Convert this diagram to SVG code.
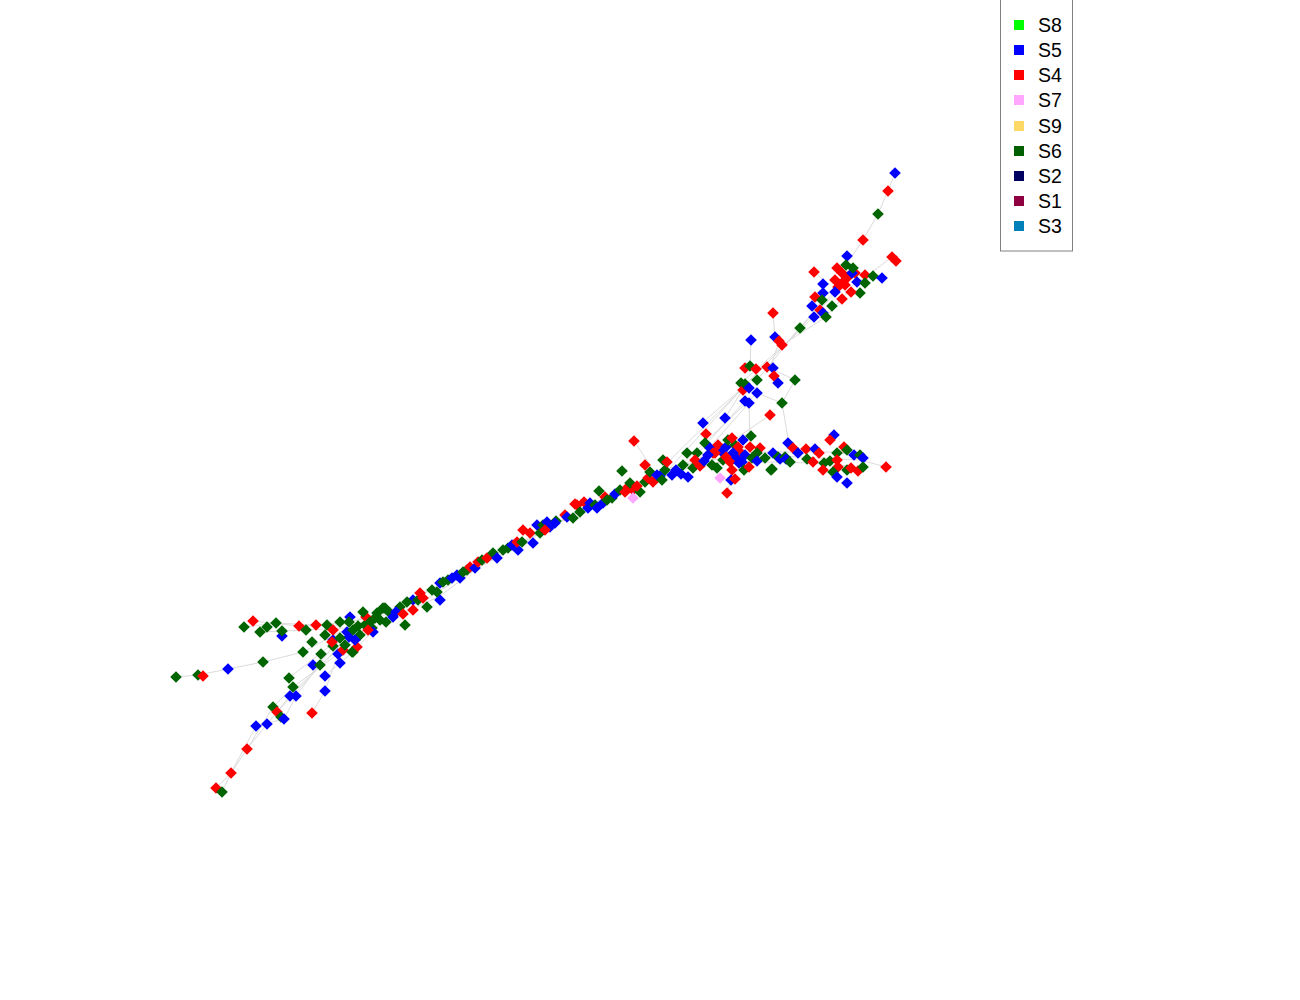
<svg xmlns="http://www.w3.org/2000/svg" width="1300" height="1000" viewBox="0 0 1300 1000">
<style>
.e{stroke:#d0d0d0;stroke-width:1;fill:none;opacity:0.75}
.g{fill:#006400}.b{fill:#0000ff}.r{fill:#ff0000}.p{fill:#ffa6ff}
.lt{font-family:"Liberation Sans",Arial,sans-serif;font-size:19.5px;fill:#000}
</style>
<defs><polygon id="d" points="0,-5.8 5.8,0 0,5.8 -5.8,0"/></defs>
<rect width="1300" height="1000" fill="#fff"/>
<g id="edges" class="e">
<polyline points="176,677 198,675 228,669 263,662 303,652 340,632 370,620"/>
<polyline points="244,627 276,623 316,625 350,622 380,615"/>
<polyline points="253,621 299,626 340,625 383,612"/>
<polyline points="260,632 306,630 345,628 390,613"/>
<polyline points="216,788 231,773 247,749 267,724 290,696 320,665 350,640 380,620"/>
<polyline points="222,792 231,773 256,726 284,719 296,696 333,646 370,622"/>
<polyline points="247,749 273,707 293,687 338,654 372,628"/>
<polyline points="312,713 325,691 338,654 360,630"/>
<polyline points="325,676 340,663 353,652 383,620"/>
<line x1="289" y1="678" x2="350" y2="630"/>
<line x1="277" y1="712" x2="345" y2="640"/>
<polyline points="370,620 420,595 460,577 500,556 540,533 580,512 620,493 660,476 700,460"/>
<polyline points="380,625 425,600 465,575 505,553 545,530 585,508 625,490 665,472 705,458"/>
<polyline points="385,615 430,590 470,568 510,548 550,526 590,505 630,486 670,468 710,455"/>
<polyline points="390,620 440,596 480,566 520,544 560,522 600,500 640,482 680,470 720,462"/>
<polyline points="700,460 740,458 780,456 820,458 860,460 886,467"/>
<polyline points="690,465 730,463 770,462 810,463 850,466"/>
<polyline points="705,452 745,452 790,452 830,452 860,455"/>
<line x1="634" y1="441" x2="650" y2="465"/>
<line x1="703" y1="422" x2="745" y2="386"/>
<line x1="660" y1="470" x2="745" y2="386"/>
<line x1="670" y1="468" x2="750" y2="380"/>
<line x1="680" y1="466" x2="757" y2="393"/>
<line x1="690" y1="462" x2="745" y2="401"/>
<line x1="700" y1="458" x2="749" y2="403"/>
<line x1="715" y1="453" x2="770" y2="415"/>
<line x1="725" y1="418" x2="745" y2="386"/>
<line x1="750" y1="440" x2="749" y2="403"/>
<line x1="782" y1="403" x2="790" y2="450"/>
<line x1="782" y1="403" x2="757" y2="393"/>
<line x1="751" y1="340" x2="750" y2="366"/>
<polyline points="775,337 779,342 770,368"/>
<line x1="773" y1="313" x2="775" y2="337"/>
<polyline points="745,385 775,355 800,328 822,305 845,280"/>
<polyline points="750,380 780,350 812,318 840,288"/>
<polyline points="741,383 790,340 826,317 855,283"/>
<line x1="757" y1="380" x2="823" y2="300"/>
<polyline points="895,173 888,191 878,214 863,240 846,265"/>
<line x1="892" y1="257" x2="855" y2="285"/>
<line x1="882" y1="278" x2="860" y2="280"/>
<line x1="814" y1="272" x2="830" y2="285"/>
<line x1="727" y1="493" x2="731" y2="480"/>
<line x1="795" y1="380" x2="770" y2="368"/>
<line x1="795" y1="380" x2="782" y2="403"/>
</g>
<g id="nodes">
<g id="n1"><use href="#d" x="176" y="677" class="g"/></g>
<g id="n2"><use href="#d" x="198" y="675" class="g"/></g>
<g id="n3"><use href="#d" x="203" y="676" class="r"/></g>
<g id="n4"><use href="#d" x="228" y="669" class="b"/></g>
<g id="n5"><use href="#d" x="263" y="662" class="g"/></g>
<g id="n6"><use href="#d" x="303" y="652" class="g"/></g>
<g id="n7"><use href="#d" x="313" y="665" class="b"/></g>
<g id="n8"><use href="#d" x="320" y="665" class="g"/></g>
<g id="n9"><use href="#d" x="325" y="676" class="b"/></g>
<g id="n10"><use href="#d" x="325" y="691" class="b"/></g>
<g id="n11"><use href="#d" x="312" y="713" class="r"/></g>
<g id="n12"><use href="#d" x="289" y="678" class="g"/></g>
<g id="n13"><use href="#d" x="293" y="687" class="g"/></g>
<g id="n14"><use href="#d" x="290" y="696" class="b"/></g>
<g id="n15"><use href="#d" x="296" y="696" class="b"/></g>
<g id="n16"><use href="#d" x="273" y="707" class="g"/></g>
<g id="n17"><use href="#d" x="277" y="712" class="r"/></g>
<g id="n18"><use href="#d" x="281" y="717" class="g"/></g>
<g id="n19"><use href="#d" x="284" y="719" class="b"/></g>
<g id="n20"><use href="#d" x="256" y="726" class="b"/></g>
<g id="n21"><use href="#d" x="267" y="724" class="b"/></g>
<g id="n22"><use href="#d" x="247" y="749" class="r"/></g>
<g id="n23"><use href="#d" x="231" y="773" class="r"/></g>
<g id="n24"><use href="#d" x="216" y="788" class="r"/></g>
<g id="n25"><use href="#d" x="222" y="792" class="g"/></g>
<g id="n26"><use href="#d" x="244" y="627" class="g"/></g>
<g id="n27"><use href="#d" x="253" y="621" class="r"/></g>
<g id="n28"><use href="#d" x="260" y="632" class="g"/></g>
<g id="n29"><use href="#d" x="267" y="627" class="g"/></g>
<g id="n30"><use href="#d" x="276" y="623" class="g"/></g>
<g id="n31"><use href="#d" x="282" y="636" class="b"/></g>
<g id="n32"><use href="#d" x="282" y="631" class="g"/></g>
<g id="n33"><use href="#d" x="299" y="626" class="r"/></g>
<g id="n34"><use href="#d" x="306" y="630" class="g"/></g>
<g id="n35"><use href="#d" x="316" y="625" class="r"/></g>
<g id="n36"><use href="#d" x="327" y="625" class="g"/></g>
<g id="n37"><use href="#d" x="340" y="622" class="g"/></g>
<g id="n38"><use href="#d" x="312" y="642" class="g"/></g>
<g id="n39"><use href="#d" x="321" y="654" class="g"/></g>
<g id="n40"><use href="#d" x="338" y="654" class="b"/></g>
<g id="n41"><use href="#d" x="340" y="663" class="b"/></g>
<g id="n42"><use href="#d" x="353" y="652" class="g"/></g>
<g id="n43"><use href="#d" x="357" y="647" class="r"/></g>
<g id="n44"><use href="#d" x="343" y="650" class="r"/></g>
<g id="n45"><use href="#d" x="349" y="637" class="b"/></g>
<g id="n46"><use href="#d" x="333" y="640" class="b"/></g>
<g id="n47"><use href="#d" x="333" y="646" class="g"/></g>
<g id="n48"><use href="#d" x="325" y="635" class="g"/></g>
<g id="n49"><use href="#d" x="333" y="630" class="r"/></g>
<g id="n50"><use href="#d" x="347" y="632" class="b"/></g>
<g id="n51"><use href="#d" x="340" y="638" class="g"/></g>
<g id="n52"><use href="#d" x="332" y="642" class="r"/></g>
<g id="n53"><use href="#d" x="353" y="630" class="g"/></g>
<g id="n54"><use href="#d" x="358" y="626" class="g"/></g>
<g id="n268"><use href="#d" x="360" y="635" class="g"/></g>
<g id="n269"><use href="#d" x="365" y="625" class="g"/></g>
<g id="n270"><use href="#d" x="375" y="618" class="g"/></g>
<g id="n271"><use href="#d" x="386" y="622" class="g"/></g>
<g id="n272"><use href="#d" x="355" y="640" class="b"/></g>
<g id="n273"><use href="#d" x="345" y="645" class="g"/></g>
<g id="n55"><use href="#d" x="350" y="617" class="b"/></g>
<g id="n56"><use href="#d" x="349" y="622" class="g"/></g>
<g id="n57"><use href="#d" x="366" y="617" class="r"/></g>
<g id="n58"><use href="#d" x="363" y="612" class="g"/></g>
<g id="n59"><use href="#d" x="377" y="613" class="g"/></g>
<g id="n60"><use href="#d" x="383" y="608" class="g"/></g>
<g id="n61"><use href="#d" x="390" y="613" class="g"/></g>
<g id="n62"><use href="#d" x="380" y="620" class="g"/></g>
<g id="n63"><use href="#d" x="370" y="622" class="g"/></g>
<g id="n64"><use href="#d" x="372" y="628" class="g"/></g>
<g id="n65"><use href="#d" x="373" y="632" class="b"/></g>
<g id="n66"><use href="#d" x="368" y="630" class="r"/></g>
<g id="n67"><use href="#d" x="352" y="652" class="g"/></g>
<g id="n68"><use href="#d" x="405" y="625" class="g"/></g>
<g id="n274"><use href="#d" x="400" y="607" class="g"/></g>
<g id="n275"><use href="#d" x="396" y="612" class="b"/></g>
<g id="n69"><use href="#d" x="403" y="614" class="r"/></g>
<g id="n70"><use href="#d" x="413" y="600" class="b"/></g>
<g id="n71"><use href="#d" x="413" y="610" class="r"/></g>
<g id="n72"><use href="#d" x="407" y="602" class="g"/></g>
<g id="n73"><use href="#d" x="385" y="608" class="g"/></g>
<g id="n74"><use href="#d" x="393" y="617" class="b"/></g>
<g id="n276"><use href="#d" x="418" y="600" class="g"/></g>
<g id="n75"><use href="#d" x="420" y="593" class="r"/></g>
<g id="n76"><use href="#d" x="423" y="598" class="r"/></g>
<g id="n77"><use href="#d" x="440" y="600" class="b"/></g>
<g id="n78"><use href="#d" x="427" y="607" class="g"/></g>
<g id="n277"><use href="#d" x="432" y="590" class="g"/></g>
<g id="n79"><use href="#d" x="437" y="592" class="g"/></g>
<g id="n80"><use href="#d" x="440" y="583" class="b"/></g>
<g id="n81"><use href="#d" x="443" y="582" class="g"/></g>
<g id="n82"><use href="#d" x="448" y="580" class="g"/></g>
<g id="n278"><use href="#d" x="452" y="578" class="b"/></g>
<g id="n83"><use href="#d" x="457" y="575" class="b"/></g>
<g id="n84"><use href="#d" x="460" y="578" class="b"/></g>
<g id="n85"><use href="#d" x="463" y="572" class="g"/></g>
<g id="n279"><use href="#d" x="467" y="570" class="g"/></g>
<g id="n86"><use href="#d" x="470" y="567" class="r"/></g>
<g id="n87"><use href="#d" x="475" y="568" class="b"/></g>
<g id="n280"><use href="#d" x="478" y="562" class="r"/></g>
<g id="n88"><use href="#d" x="482" y="560" class="g"/></g>
<g id="n89"><use href="#d" x="487" y="558" class="r"/></g>
<g id="n90"><use href="#d" x="493" y="553" class="g"/></g>
<g id="n91"><use href="#d" x="497" y="558" class="b"/></g>
<g id="n281"><use href="#d" x="503" y="550" class="g"/></g>
<g id="n92"><use href="#d" x="508" y="548" class="g"/></g>
<g id="n282"><use href="#d" x="512" y="545" class="b"/></g>
<g id="n93"><use href="#d" x="518" y="550" class="b"/></g>
<g id="n94"><use href="#d" x="517" y="542" class="r"/></g>
<g id="n95"><use href="#d" x="522" y="542" class="g"/></g>
<g id="n96"><use href="#d" x="533" y="543" class="b"/></g>
<g id="n97"><use href="#d" x="523" y="530" class="r"/></g>
<g id="n98"><use href="#d" x="530" y="533" class="r"/></g>
<g id="n99"><use href="#d" x="537" y="525" class="b"/></g>
<g id="n100"><use href="#d" x="540" y="533" class="g"/></g>
<g id="n101"><use href="#d" x="543" y="525" class="g"/></g>
<g id="n283"><use href="#d" x="547" y="522" class="b"/></g>
<g id="n102"><use href="#d" x="550" y="527" class="b"/></g>
<g id="n103"><use href="#d" x="545" y="530" class="r"/></g>
<g id="n284"><use href="#d" x="556" y="521" class="g"/></g>
<g id="n104"><use href="#d" x="555" y="523" class="b"/></g>
<g id="n285"><use href="#d" x="565" y="515" class="r"/></g>
<g id="n105"><use href="#d" x="567" y="517" class="b"/></g>
<g id="n106"><use href="#d" x="573" y="518" class="g"/></g>
<g id="n107"><use href="#d" x="577" y="505" class="r"/></g>
<g id="n108"><use href="#d" x="580" y="512" class="g"/></g>
<g id="n109"><use href="#d" x="584" y="502" class="r"/></g>
<g id="n110"><use href="#d" x="575" y="504" class="r"/></g>
<g id="n111"><use href="#d" x="588" y="508" class="b"/></g>
<g id="n286"><use href="#d" x="590" y="503" class="b"/></g>
<g id="n112"><use href="#d" x="595" y="505" class="g"/></g>
<g id="n113"><use href="#d" x="599" y="491" class="g"/></g>
<g id="n114"><use href="#d" x="597" y="508" class="b"/></g>
<g id="n115"><use href="#d" x="603" y="503" class="b"/></g>
<g id="n287"><use href="#d" x="605" y="497" class="r"/></g>
<g id="n116"><use href="#d" x="607" y="500" class="g"/></g>
<g id="n117"><use href="#d" x="612" y="498" class="g"/></g>
<g id="n288"><use href="#d" x="615" y="494" class="b"/></g>
<g id="n289"><use href="#d" x="620" y="490" class="g"/></g>
<g id="n118"><use href="#d" x="625" y="492" class="r"/></g>
<g id="n290"><use href="#d" x="628" y="487" class="r"/></g>
<g id="n119"><use href="#d" x="633" y="490" class="r"/></g>
<g id="n120"><use href="#d" x="640" y="492" class="g"/></g>
<g id="n121"><use href="#d" x="633" y="498" class="p"/></g>
<g id="n122"><use href="#d" x="622" y="471" class="g"/></g>
<g id="n123"><use href="#d" x="630" y="483" class="g"/></g>
<g id="n124"><use href="#d" x="637" y="486" class="r"/></g>
<g id="n125"><use href="#d" x="645" y="482" class="g"/></g>
<g id="n291"><use href="#d" x="648" y="478" class="r"/></g>
<g id="n292"><use href="#d" x="650" y="472" class="g"/></g>
<g id="n126"><use href="#d" x="653" y="482" class="r"/></g>
<g id="n127"><use href="#d" x="657" y="475" class="b"/></g>
<g id="n128"><use href="#d" x="660" y="476" class="b"/></g>
<g id="n293"><use href="#d" x="665" y="470" class="g"/></g>
<g id="n129"><use href="#d" x="672" y="475" class="b"/></g>
<g id="n294"><use href="#d" x="676" y="470" class="b"/></g>
<g id="n130"><use href="#d" x="681" y="474" class="b"/></g>
<g id="n131"><use href="#d" x="688" y="477" class="b"/></g>
<g id="n295"><use href="#d" x="693" y="468" class="g"/></g>
<g id="n296"><use href="#d" x="700" y="466" class="r"/></g>
<g id="n132"><use href="#d" x="683" y="465" class="g"/></g>
<g id="n133"><use href="#d" x="687" y="453" class="g"/></g>
<g id="n134"><use href="#d" x="645" y="465" class="r"/></g>
<g id="n135"><use href="#d" x="663" y="460" class="g"/></g>
<g id="n136"><use href="#d" x="667" y="462" class="r"/></g>
<g id="n137"><use href="#d" x="634" y="441" class="r"/></g>
<g id="n138"><use href="#d" x="662" y="480" class="g"/></g>
<g id="n139"><use href="#d" x="703" y="423" class="b"/></g>
<g id="n140"><use href="#d" x="725" y="418" class="b"/></g>
<g id="n141"><use href="#d" x="706" y="434" class="r"/></g>
<g id="n142"><use href="#d" x="705" y="443" class="g"/></g>
<g id="n297"><use href="#d" x="710" y="448" class="b"/></g>
<g id="n298"><use href="#d" x="718" y="445" class="r"/></g>
<g id="n299"><use href="#d" x="726" y="447" class="b"/></g>
<g id="n300"><use href="#d" x="735" y="445" class="g"/></g>
<g id="n143"><use href="#d" x="728" y="440" class="g"/></g>
<g id="n144"><use href="#d" x="732" y="438" class="r"/></g>
<g id="n145"><use href="#d" x="743" y="440" class="b"/></g>
<g id="n146"><use href="#d" x="738" y="447" class="r"/></g>
<g id="n147"><use href="#d" x="750" y="447" class="r"/></g>
<g id="n148"><use href="#d" x="751" y="436" class="g"/></g>
<g id="n301"><use href="#d" x="740" y="452" class="r"/></g>
<g id="n302"><use href="#d" x="745" y="455" class="b"/></g>
<g id="n303"><use href="#d" x="752" y="458" class="g"/></g>
<g id="n304"><use href="#d" x="760" y="448" class="r"/></g>
<g id="n149"><use href="#d" x="722" y="452" class="b"/></g>
<g id="n150"><use href="#d" x="733" y="453" class="b"/></g>
<g id="n151"><use href="#d" x="715" y="453" class="r"/></g>
<g id="n152"><use href="#d" x="697" y="453" class="g"/></g>
<g id="n153"><use href="#d" x="713" y="453" class="r"/></g>
<g id="n305"><use href="#d" x="708" y="455" class="b"/></g>
<g id="n154"><use href="#d" x="695" y="460" class="r"/></g>
<g id="n155"><use href="#d" x="704" y="461" class="b"/></g>
<g id="n306"><use href="#d" x="712" y="465" class="g"/></g>
<g id="n156"><use href="#d" x="723" y="460" class="g"/></g>
<g id="n307"><use href="#d" x="726" y="457" class="r"/></g>
<g id="n308"><use href="#d" x="736" y="458" class="b"/></g>
<g id="n157"><use href="#d" x="730" y="462" class="r"/></g>
<g id="n158"><use href="#d" x="742" y="462" class="b"/></g>
<g id="n159"><use href="#d" x="739" y="463" class="b"/></g>
<g id="n160"><use href="#d" x="757" y="453" class="g"/></g>
<g id="n161"><use href="#d" x="757" y="461" class="b"/></g>
<g id="n309"><use href="#d" x="765" y="458" class="g"/></g>
<g id="n310"><use href="#d" x="744" y="470" class="g"/></g>
<g id="n162"><use href="#d" x="717" y="468" class="g"/></g>
<g id="n163"><use href="#d" x="732" y="470" class="r"/></g>
<g id="n164"><use href="#d" x="749" y="467" class="r"/></g>
<g id="n165"><use href="#d" x="771" y="470" class="g"/></g>
<g id="n166"><use href="#d" x="720" y="478" class="p"/></g>
<g id="n167"><use href="#d" x="731" y="480" class="b"/></g>
<g id="n168"><use href="#d" x="735" y="479" class="r"/></g>
<g id="n169"><use href="#d" x="727" y="493" class="r"/></g>
<g id="n170"><use href="#d" x="834" y="435" class="b"/></g>
<g id="n171"><use href="#d" x="830" y="440" class="r"/></g>
<g id="n172"><use href="#d" x="788" y="443" class="b"/></g>
<g id="n173"><use href="#d" x="793" y="448" class="r"/></g>
<g id="n174"><use href="#d" x="773" y="453" class="b"/></g>
<g id="n175"><use href="#d" x="778" y="457" class="g"/></g>
<g id="n176"><use href="#d" x="780" y="459" class="b"/></g>
<g id="n177"><use href="#d" x="785" y="457" class="g"/></g>
<g id="n178"><use href="#d" x="798" y="453" class="b"/></g>
<g id="n179"><use href="#d" x="806" y="449" class="r"/></g>
<g id="n180"><use href="#d" x="815" y="449" class="b"/></g>
<g id="n181"><use href="#d" x="819" y="453" class="r"/></g>
<g id="n182"><use href="#d" x="837" y="453" class="g"/></g>
<g id="n183"><use href="#d" x="844" y="447" class="r"/></g>
<g id="n184"><use href="#d" x="847" y="450" class="g"/></g>
<g id="n185"><use href="#d" x="854" y="455" class="b"/></g>
<g id="n186"><use href="#d" x="860" y="455" class="g"/></g>
<g id="n187"><use href="#d" x="863" y="458" class="b"/></g>
<g id="n188"><use href="#d" x="807" y="459" class="g"/></g>
<g id="n189"><use href="#d" x="786" y="459" class="b"/></g>
<g id="n190"><use href="#d" x="790" y="462" class="g"/></g>
<g id="n191"><use href="#d" x="813" y="462" class="r"/></g>
<g id="n192"><use href="#d" x="830" y="461" class="g"/></g>
<g id="n193"><use href="#d" x="837" y="460" class="r"/></g>
<g id="n194"><use href="#d" x="838" y="467" class="r"/></g>
<g id="n195"><use href="#d" x="824" y="463" class="g"/></g>
<g id="n196"><use href="#d" x="823" y="470" class="r"/></g>
<g id="n197"><use href="#d" x="833" y="472" class="g"/></g>
<g id="n198"><use href="#d" x="847" y="470" class="g"/></g>
<g id="n199"><use href="#d" x="851" y="468" class="r"/></g>
<g id="n200"><use href="#d" x="858" y="471" class="r"/></g>
<g id="n201"><use href="#d" x="863" y="467" class="g"/></g>
<g id="n202"><use href="#d" x="837" y="477" class="b"/></g>
<g id="n203"><use href="#d" x="847" y="483" class="b"/></g>
<g id="n204"><use href="#d" x="886" y="467" class="r"/></g>
<g id="n205"><use href="#d" x="772" y="469" class="g"/></g>
<g id="n206"><use href="#d" x="751" y="340" class="b"/></g>
<g id="n207"><use href="#d" x="775" y="337" class="b"/></g>
<g id="n208"><use href="#d" x="779" y="341" class="r"/></g>
<g id="n209"><use href="#d" x="782" y="345" class="r"/></g>
<g id="n210"><use href="#d" x="800" y="328" class="g"/></g>
<g id="n211"><use href="#d" x="745" y="368" class="r"/></g>
<g id="n212"><use href="#d" x="750" y="366" class="g"/></g>
<g id="n213"><use href="#d" x="756" y="369" class="r"/></g>
<g id="n214"><use href="#d" x="767" y="367" class="r"/></g>
<g id="n215"><use href="#d" x="773" y="368" class="b"/></g>
<g id="n216"><use href="#d" x="774" y="376" class="r"/></g>
<g id="n217"><use href="#d" x="757" y="380" class="g"/></g>
<g id="n218"><use href="#d" x="795" y="380" class="g"/></g>
<g id="n219"><use href="#d" x="778" y="383" class="b"/></g>
<g id="n220"><use href="#d" x="741" y="383" class="g"/></g>
<g id="n221"><use href="#d" x="743" y="390" class="r"/></g>
<g id="n222"><use href="#d" x="745" y="384" class="g"/></g>
<g id="n223"><use href="#d" x="749" y="388" class="b"/></g>
<g id="n224"><use href="#d" x="757" y="393" class="b"/></g>
<g id="n225"><use href="#d" x="745" y="401" class="b"/></g>
<g id="n226"><use href="#d" x="749" y="403" class="b"/></g>
<g id="n227"><use href="#d" x="782" y="403" class="g"/></g>
<g id="n228"><use href="#d" x="770" y="415" class="r"/></g>
<g id="n229"><use href="#d" x="773" y="313" class="r"/></g>
<g id="n230"><use href="#d" x="895" y="173" class="b"/></g>
<g id="n231"><use href="#d" x="888" y="191" class="r"/></g>
<g id="n232"><use href="#d" x="878" y="214" class="g"/></g>
<g id="n233"><use href="#d" x="863" y="240" class="r"/></g>
<g id="n234"><use href="#d" x="892" y="257" class="r"/></g>
<g id="n235"><use href="#d" x="896" y="261" class="r"/></g>
<g id="n236"><use href="#d" x="847" y="256" class="b"/></g>
<g id="n237"><use href="#d" x="846" y="265" class="g"/></g>
<g id="n238"><use href="#d" x="814" y="272" class="r"/></g>
<g id="n239"><use href="#d" x="837" y="268" class="r"/></g>
<g id="n240"><use href="#d" x="842" y="273" class="r"/></g>
<g id="n241"><use href="#d" x="848" y="277" class="r"/></g>
<g id="n242"><use href="#d" x="855" y="273" class="r"/></g>
<g id="n243"><use href="#d" x="843" y="282" class="r"/></g>
<g id="n244"><use href="#d" x="838" y="287" class="r"/></g>
<g id="n245"><use href="#d" x="852" y="273" class="b"/></g>
<g id="n246"><use href="#d" x="853" y="268" class="g"/></g>
<g id="n247"><use href="#d" x="865" y="275" class="r"/></g>
<g id="n248"><use href="#d" x="873" y="276" class="g"/></g>
<g id="n249"><use href="#d" x="882" y="278" class="b"/></g>
<g id="n250"><use href="#d" x="857" y="282" class="b"/></g>
<g id="n251"><use href="#d" x="865" y="283" class="g"/></g>
<g id="n252"><use href="#d" x="860" y="293" class="g"/></g>
<g id="n253"><use href="#d" x="851" y="292" class="r"/></g>
<g id="n254"><use href="#d" x="835" y="292" class="b"/></g>
<g id="n255"><use href="#d" x="823" y="284" class="b"/></g>
<g id="n256"><use href="#d" x="823" y="293" class="b"/></g>
<g id="n257"><use href="#d" x="815" y="297" class="r"/></g>
<g id="n258"><use href="#d" x="822" y="300" class="g"/></g>
<g id="n259"><use href="#d" x="812" y="306" class="b"/></g>
<g id="n260"><use href="#d" x="832" y="306" class="g"/></g>
<g id="n261"><use href="#d" x="842" y="299" class="r"/></g>
<g id="n262"><use href="#d" x="820" y="310" class="r"/></g>
<g id="n263"><use href="#d" x="823" y="313" class="b"/></g>
<g id="n264"><use href="#d" x="826" y="317" class="g"/></g>
<g id="n265"><use href="#d" x="814" y="317" class="b"/></g>
<g id="n266"><use href="#d" x="845" y="285" class="r"/></g>
<g id="n267"><use href="#d" x="835" y="280" class="r"/></g>
</g>
<g id="legend">
<rect x="1000.5" y="-1" width="72" height="252" fill="#fff" stroke="#808080" stroke-width="1"/>
<rect x="1014" y="20" width="10" height="10" fill="#00ff00"/><text class="lt" x="1038" y="32">S8</text>
<rect x="1014" y="45" width="10" height="10" fill="#0000ff"/><text class="lt" x="1038" y="57">S5</text>
<rect x="1014" y="70" width="10" height="10" fill="#ff0000"/><text class="lt" x="1038" y="82">S4</text>
<rect x="1014" y="95" width="10" height="10" fill="#ffa6ff"/><text class="lt" x="1038" y="107">S7</text>
<rect x="1014" y="121" width="10" height="10" fill="#ffd966"/><text class="lt" x="1038" y="133">S9</text>
<rect x="1014" y="146" width="10" height="10" fill="#006000"/><text class="lt" x="1038" y="158">S6</text>
<rect x="1014" y="171" width="10" height="10" fill="#000060"/><text class="lt" x="1038" y="183">S2</text>
<rect x="1014" y="196" width="10" height="10" fill="#900040"/><text class="lt" x="1038" y="208">S1</text>
<rect x="1014" y="221" width="10" height="10" fill="#0080b8"/><text class="lt" x="1038" y="233">S3</text>
</g>
</svg>
